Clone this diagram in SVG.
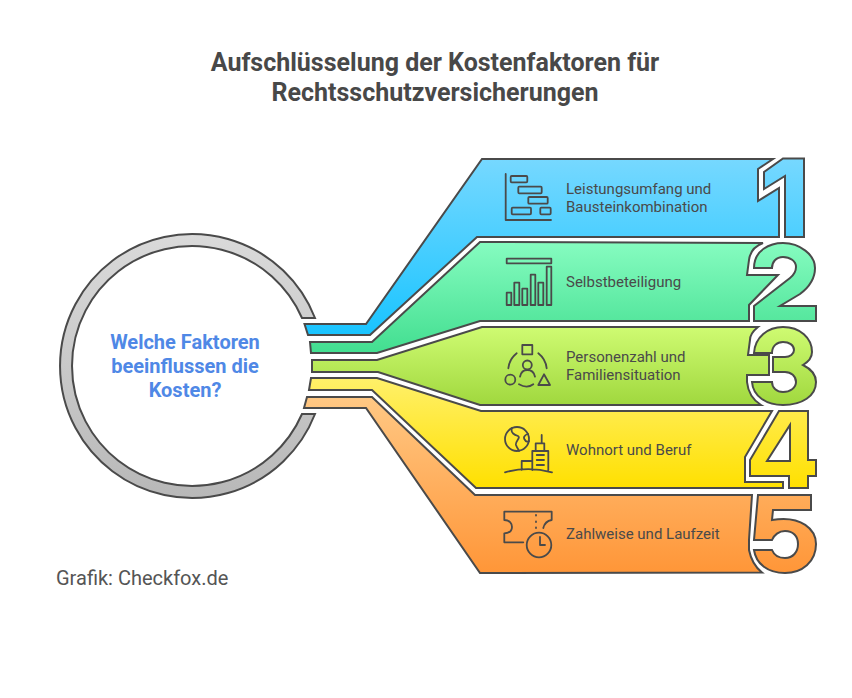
<svg xmlns="http://www.w3.org/2000/svg" width="852" height="698" viewBox="0 0 852 698">
<style>
.s{stroke:#4a4a4a;stroke-width:2;stroke-linejoin:miter}
.i{fill:none;stroke:#4a4a4a;stroke-width:1.8;stroke-linecap:round;stroke-linejoin:round}
.r{font-family:Roboto,"Liberation Sans",sans-serif}
.t{font-size:25px;font-weight:700;fill:#484848;text-anchor:middle}
.l{font-size:15px;fill:#4a4a4a}
.q{font-size:20px;font-weight:700;fill:#4f88e6;text-anchor:middle}
</style>
<defs>
<linearGradient id="g0" gradientUnits="userSpaceOnUse" x1="0" y1="234" x2="0" y2="497"><stop offset="0" stop-color="#dadada"/><stop offset="1" stop-color="#b8b8b8"/></linearGradient>
<linearGradient id="g1" gradientUnits="userSpaceOnUse" x1="0" y1="159" x2="0" y2="336"><stop offset="0" stop-color="#76d8ff"/><stop offset="1" stop-color="#19c4ff"/></linearGradient>
<linearGradient id="g2" gradientUnits="userSpaceOnUse" x1="0" y1="242" x2="0" y2="353"><stop offset="0" stop-color="#86fcc0"/><stop offset="1" stop-color="#42de90"/></linearGradient>
<linearGradient id="g3" gradientUnits="userSpaceOnUse" x1="0" y1="327" x2="0" y2="405"><stop offset="0" stop-color="#cffb72"/><stop offset="1" stop-color="#a0d83e"/></linearGradient>
<linearGradient id="g4" gradientUnits="userSpaceOnUse" x1="0" y1="378" x2="0" y2="488"><stop offset="0" stop-color="#fff06a"/><stop offset="1" stop-color="#ffe000"/></linearGradient>
<linearGradient id="g5" gradientUnits="userSpaceOnUse" x1="0" y1="397" x2="0" y2="573"><stop offset="0" stop-color="#ffc884"/><stop offset="1" stop-color="#ff9638"/></linearGradient>
</defs>
<text class="r t" x="435" y="71">Aufschlüsselung der Kostenfaktoren für</text>
<text class="r t" x="435" y="101">Rechtsschutzversicherungen</text>
<g id="hub">
<path class="s" fill="url(#g0)" d="M315,318 A132,132 0 1 0 315,414 L302,414 A120,120 0 1 1 302,318 Z"/>
<text class="r q" x="185" y="349">Welche Faktoren</text>
<text class="r q" x="185" y="373">beeinflussen die</text>
<text class="r q" x="185" y="397">Kosten?</text>
</g>
<g id="connectors">
</g>
<g id="node1">
<path class="s" fill="url(#g1)" d="M304.500,324 L366,324 L482,159 L773,159 L758,169 L758,201 L779,188 L779,237 L477,237 L370,335 L308,335 Z"/>
<path class="s" fill="url(#g1)" d="M783,158.500 L804,158.500 L804,237 L785,237 L785,176 L764,189 L764,172 Z"/>
<path class="i" d="M505.700,174 V220 H551"/>
<rect class="i" x="510.700" y="176" width="16.600" height="6.300" rx="1"/>
<rect class="i" x="518.300" y="186.700" width="23.400" height="6.600" rx="1"/>
<rect class="i" x="528.300" y="197" width="19.400" height="6.700" rx="1"/>
<rect class="i" x="511.700" y="207.700" width="19.300" height="6.600" rx="1"/>
<rect class="i" x="540.300" y="207.700" width="10.400" height="6.600" rx="1"/>
<text class="r l" x="566" y="194">Leistungsumfang und</text>
<text class="r l" x="566" y="212">Bausteinkombination</text>
</g>
<g id="node2">
<path class="s" fill="url(#g2)" d="M310,342 L372,342 L480,242 L763,243 C755,246 750,252 749,260 L747,275 L778,275 L749,305 L749,321 L480,321 L377,353 L311,353 Z"/>
<path class="s" fill="url(#g2)" d="M754,268 C754,250 770,243 783,243 C800,243 815,255 815,268 C815,280 808,288 800,294 L780,306 L816,306 L816,321 L754,321 L754,306 L790,278 C795,274 796,270 796,267 C796,261 790,257 783,257 C776,257 772,262 772,268 Z"/>
<path class="i" d="M506.700,258.700 h44.600 v4.600 h-44.600 zM506.700,305 v-12.300 h4.600 v12.300 zM514.300,305 v-22.300 h5 v22.300 zM522.300,305 v-16.300 h5 v16.300 zM530.700,305 v-30.300 h4.600 v30.300 zM538.300,305 v-22.300 h5 v22.300 zM546.700,305 v-38.300 h4.600 v38.300 z"/>
<text class="r l" x="566" y="287">Selbstbeteiligung</text>
</g>
<g id="node3">
<path class="s" fill="url(#g3)" d="M312,360 L377,360 L482,327 L758,327 C753,331 750,336 750,340 L748,355 L769,355 L769,375 L747,375 L747,382 C748,392 753,400 761,405 L480,405 L378,372 L312,372 Z"/>
<path class="s" fill="url(#g3)" d="M754,353 C755,337 768,327 783,327 C800,327 812,338 812,352 C812,358 808,362 803,365 C811,369 816,375 816,382 C816,396 802,405 783,405 C766,405 753,396 752,382 L772,382 C772,388 777,392 783,392 C790,392 796,388 796,382 C796,376 791,372 785,372 L773,372 L773,357 L785,357 C790,357 794,354 794,350 C794,345 789,342 783,342 C777,342 772,346 772,353 Z"/>
<path class="i" d="M522.300,345 h10 v9.300 h-10 zM520,376.700 C521,372 524,370 527.300,370 C531,370 534,372 535,376.700M508.300,368.300 C509,362 512,357 516.700,353.300M538.300,353.300 C543,357 546,362 546.700,368.300M519,384.300 Q527,389 533.300,384.300M544,374.300 L550,385 H538.300 Z"/>
<circle class="i" cx="527.300" cy="365" r="4.500"/><circle class="i" cx="510.300" cy="379.700" r="5"/>
<text class="r l" x="566" y="362">Personenzahl und</text>
<text class="r l" x="566" y="380">Familiensituation</text>
</g>
<g id="node4">
<path class="s" fill="url(#g4)" d="M311,378 L377,378 L481,411 L772,411 L745,457 L745,482 L783,482 L783,488 L476,488 L372,390 L309,390 Z"/>
<path class="s" fill="url(#g4)" fill-rule="evenodd" d="M779,411 L808,411 L808,460 L816,460 L816,476 L808,476 L808,488 L789,488 L789,476 L750,476 L750,460 ZM790,425 L790,461 L767,461 Z"/>
<circle class="i" cx="517" cy="439" r="12"/>
<path class="i" d="M512,428 C510,433 515,435 518,436 C521,438 515,441 516,445 C517,448 519,450 519,451M528,434 C524,435 523,438 525,440 C526,442 528,442 529,441M532.300,470 V451 H548.300 V470M535.700,451 V443.300 H544.300 V451M541.700,443.300 V435M521.700,470 V461 H532.300M536.700,455 H544M536.700,460 H544M536.700,465 H544M505,472.300 Q528,466 552,472.300"/>
<text class="r l" x="566" y="455">Wohnort und Beruf</text>
</g>
<g id="node5">
<path class="s" fill="url(#g5)" d="M307,397 L372,397 L475,495 L752,495 L749,540 L749,550 C751,560 755,567 762,572.500 L480,573 L366,408 L304,408 Z"/>
<path class="s" fill="url(#g5)" d="M758,495 L811,495 L811,510 L773,510 L772,520 C802,515 816,530 816,544 C816,562 802,573 785,573 C768,573 756,564 754,550 L772,550 C774,555 779,558 785,558 C793,558 798,552 798,544 C798,536 793,531 785,531 C779,531 774,535 772,540 L754,540 Z"/>
<path class="i" d="M523.300,542.300 H504.300 V533.300 C510,533 512,530 512,527 C512,524 510,520 504.300,520 V511.700 H551.700 V520 C546,521 544,525 543.300,528M536,515 v.5M536,521.500 v.5M536,527.500 v.5M540,537 V545 H545"/>
<circle class="i" cx="539" cy="545" r="12.300"/>
<text class="r l" x="566" y="539">Zahlweise und Laufzeit</text>
</g>
<text class="r" x="56" y="585" font-size="20" fill="#555555">Grafik: Checkfox.de</text>
</svg>
